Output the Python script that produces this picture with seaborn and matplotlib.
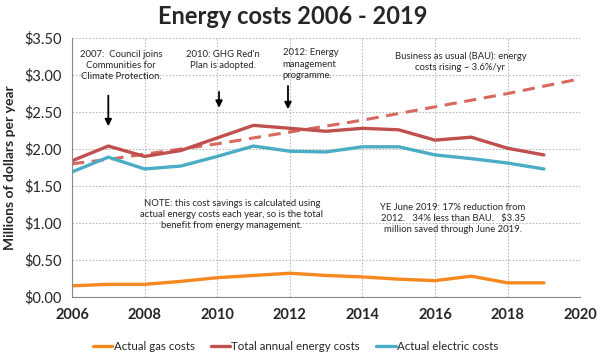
import matplotlib
matplotlib.use("Agg")
import matplotlib.pyplot as plt
import seaborn as sns
import pandas as pd

# Data (millions of dollars)
years = [2006, 2007, 2008, 2009, 2010, 2011, 2012, 2013, 2014, 2015, 2016, 2017, 2018, 2019]
gas_costs = [0.15, 0.17, 0.17, 0.21, 0.26, 0.29, 0.32, 0.29, 0.27, 0.24, 0.22, 0.28, 0.19, 0.19]
total_costs = [1.84, 2.04, 1.90, 1.98, 2.15, 2.32, 2.28, 2.24, 2.28, 2.26, 2.12, 2.16, 2.01, 1.92]
electric_costs = [1.69, 1.89, 1.73, 1.77, 1.90, 2.04, 1.97, 1.96, 2.03, 2.03, 1.92, 1.87, 1.81, 1.73]
bau_years = [2006, 2007, 2008, 2009, 2010, 2011, 2012, 2013, 2014, 2015, 2016, 2017, 2018, 2019, 2020]
bau_costs = [1.80, 1.86, 1.93, 2.00, 2.07, 2.15, 2.23, 2.31, 2.39, 2.48, 2.57, 2.66, 2.75, 2.85, 2.95]

series_names = ["Actual gas costs", "Total annual energy costs", "Actual electric costs"]
colors = ["#F5891F", "#C0504D", "#4BACC6"]

df = pd.DataFrame({
    "year": years * 3,
    "cost": gas_costs + total_costs + electric_costs,
    "series": [series_names[0]] * len(years) + [series_names[1]] * len(years) + [series_names[2]] * len(years),
})
bau = pd.DataFrame({"year": bau_years, "cost": bau_costs})

sns.set_style("white")
plt.rcParams["font.family"] = ["Lato", "DejaVu Sans"]

fig = plt.figure(figsize=(6, 3.56), dpi=100)
ax = fig.add_axes([0.12, 0.166, 0.847, 0.727])

sns.lineplot(data=bau, x="year", y="cost", ax=ax, color="#D9695F", lw=2.2,
             linestyle=(0, (4, 2.5)), legend=False)
sns.lineplot(data=df, x="year", y="cost", hue="series", hue_order=series_names,
             palette=colors, ax=ax, lw=2.4)

ax.set_xlim(2006, 2020)
ax.set_ylim(0, 3.5)
ax.set_xticks(range(2006, 2021, 2))
ax.set_yticks([0, 0.5, 1.0, 1.5, 2.0, 2.5, 3.0, 3.5])
ax.set_yticklabels(["$%.2f" % v for v in ax.get_yticks()])
ax.tick_params(axis="both", labelsize=10.5, length=4, color="#888888", direction="out")
ax.tick_params(axis="x", pad=4)
for lab in ax.get_xticklabels():
    lab.set_fontweight("bold")
ax.grid(True, color="#BBBBBB", linestyle=(0, (1.5, 1.5)), lw=0.8)
for s in ["top", "right"]:
    ax.spines[s].set_visible(False)
for s in ["left", "bottom"]:
    ax.spines[s].set_color("#888888")
    ax.spines[s].set_linewidth(0.8)

ax.set_xlabel("")
ax.set_ylabel("Millions of dollars per year", fontsize=10, fontweight="bold", labelpad=6)
fig.text(0.488, 0.985, "Energy costs 2006 - 2019", fontsize=17, fontweight="bold",
         ha="center", va="top")

# Annotations
txt = dict(fontsize=6.8, ha="center", va="top", linespacing=1.3)
ax.text(2007.35, 3.34, "2007:  Council joins\nCommunities for\nClimate Protection.", **txt)
ax.text(2010.15, 3.34, "2010: GHG Red'n\nPlan is adopted.", **txt)
ax.text(2011.8, 3.36, "2012: Energy\nmanagement\nprogramme.", fontsize=6.8, ha="left", va="top", linespacing=1.3)
ax.text(2016.7, 3.32, "Business as usual (BAU): energy\ncosts rising ~ 3.6%/yr", **txt)
ax.text(2010.4, 1.32, "NOTE: this cost savings is calculated using\nactual energy costs each year, so is the total\nbenefit from energy management.", **txt)
ax.text(2016.5, 1.27, "YE June 2019: 17% reduction from\n2012.   34% less than BAU.   $3.35\nmillion saved through June 2019.", **txt)

arrow = dict(arrowstyle="-|>", color="black", lw=1.3, mutation_scale=10)
ax.annotate("", xy=(2007, 2.27), xytext=(2007, 2.76), arrowprops=arrow)
ax.annotate("", xy=(2010.05, 2.52), xytext=(2010.05, 2.81), arrowprops=arrow)
ax.annotate("", xy=(2011.95, 2.50), xytext=(2011.95, 2.89), arrowprops=arrow)

ax.legend(loc="upper center", bbox_to_anchor=(0.44, -0.13), ncol=3, frameon=False,
          fontsize=8.3, handlelength=1.7, handletextpad=0.1, columnspacing=1.4)

fig.savefig("out.png", dpi=100)
